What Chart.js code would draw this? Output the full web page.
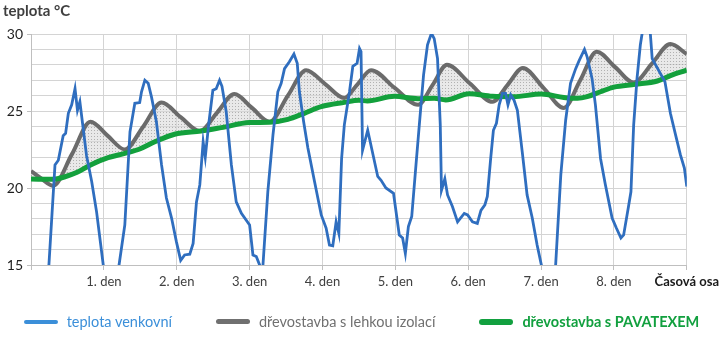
<!DOCTYPE html>
<html>
<head>
<meta charset="utf-8">
<script src="https://cdn.jsdelivr.net/npm/chart.js@4/dist/chart.umd.min.js"></script>
<style>
  body { margin: 0; background: #fff; }
  #wrap { position: relative; width: 723px; height: 343px; font-family: Lato, "Open Sans", sans-serif; }
  #chart { position: absolute; left: 0; top: 0; }
  #ytitle { position: absolute; left: 3px; top: 1px; font-size: 15px; font-weight: bold; color: #3f3f3f; }
  #legend { position: absolute; left: 0; top: 313px; width: 723px; display: flex; justify-content: center; gap: 44px; font-size: 14.5px; }
  #legend .item { display: flex; align-items: center; }
  #legend .line { display: inline-block; width: 34px; border-radius: 3px; margin-right: 9px; }
</style>
</head>
<body>
<div id="wrap">
  <canvas id="chart" width="723" height="343"></canvas>
  <div id="ytitle">teplota °C</div>
  <div id="legend"></div>
</div>
<script>
// x axis: hours from start, one gridline per day
const dayLabels = ['', '1. den', '2. den', '3. den', '4. den', '5. den', '6. den', '7. den', '8. den', 'Časová osa'];

// outdoor temperature
const outdoorHours = [0, 5.9, 7.9, 9, 10.6, 11.4, 12.3, 13.4, 14.5, 15.3, 16.1, 18.3, 20, 21.6, 23.8, 26.5, 29, 30.9, 32.6, 34.2,
  35.8, 36.4, 37.5, 38.6, 39.7, 41.3, 43, 44.6, 46.3, 47.9, 49.3, 50.6, 52.3, 53.4, 54.5, 55.6, 56.7, 57.4, 58.5, 59.9,
  61, 62.1, 62.9, 64.3, 66, 67.6, 69.3, 72, 73.1, 74.2, 75.3, 75.8, 76.4, 78, 79.7, 81.3, 82.4, 83.5, 85.1, 86.6,
  87.7, 88.4, 89.8, 91.2, 93.4, 95.6, 97.2, 98.3, 99.4, 100.5, 101.4, 102.3, 103.2, 104.9, 106, 107.4, 108.2, 108.7, 109.2, 110.9,
  114.2, 115.3, 116.9, 119.4, 121.3, 122.4, 123.3, 124.3, 125.4, 126.8, 127.9, 129.3, 130.6, 131.9, 132.8, 133.9, 134.8, 135.2, 136.3, 137.2,
  138.8, 140.5, 142.7, 143.8, 145.4, 147, 148.2, 149.5, 150.3, 151.4, 152.3, 153.3, 154.2, 155.3, 156.3, 157.1, 158, 159.1, 160.2, 161.8,
  163.4, 165.1, 166.7, 168.1, 170.4, 172.8, 174.5, 176.1, 177.7, 179.4, 180.5, 182.3, 183.2, 184.8, 185.9, 187.6, 189.2, 191.4, 192.8, 194.3,
  195.2, 196.8, 197.6, 198.5, 199.6, 200.7, 201.3, 202.6, 204, 204.6, 208.8, 210.6, 212.3, 213.9, 215.2, 216];
const outdoorTemps = [13.0, 15.0, 21.5, 21.8, 23.4, 23.55, 24.85, 25.4, 26.45, 25.05, 25.6, 22.1, 20.4, 18.45, 15.0, 13.4, 15.0, 17.6, 23.65, 25.5,
  25.55, 26.25, 27.0, 26.8, 25.9, 24.3, 21.5, 19.35, 18.05, 16.5, 15.3, 15.65, 15.7, 16.4, 19.1, 20.2, 23.0, 22.0, 24.1, 26.35,
  26.45, 27.0, 26.6, 24.95, 21.5, 19.1, 18.35, 17.6, 15.65, 15.55, 15.0, 14.6, 15.0, 19.75, 23.45, 26.25, 26.8, 27.75, 28.2, 28.7,
  28.1, 26.25, 24.3, 22.6, 20.4, 18.25, 17.4, 16.3, 16.25, 17.8, 17.05, 21.9, 24.1, 26.25, 27.9, 28.1, 29.05, 28.85, 22.45, 23.75,
  20.75, 20.5, 20.0, 19.65, 16.95, 16.75, 15.75, 17.5, 18.15, 21.5, 24.1, 27.35, 29.3, 30.05, 29.7, 28.4, 24.1, 19.85, 20.6, 19.55,
  18.8, 17.8, 18.35, 18.25, 17.8, 17.7, 18.55, 18.9, 19.45, 21.9, 23.75, 24.2, 25.4, 26.15, 26.15, 25.4, 26.05, 25.7, 25.05, 22.35,
  19.55, 18.05, 16.3, 15.0, 13.8, 15.0, 20.85, 24.4, 26.8, 27.75, 28.25, 29.0, 28.5, 27.1, 25.4, 21.9, 20.2, 18.05, 17.4, 16.75,
  16.95, 18.8, 19.75, 24.1, 27.1, 29.3, 30.05, 30.6, 30.0, 28.4, 26.9, 24.85, 23.45, 22.15, 21.3, 20.1];

// light timber frame
const lightHours = [0, 3.5, 7.3, 13.5, 19.6, 25.2, 30.9, 37, 43, 49.3, 55.6, 61.3, 67, 72.8, 78.6, 84.6, 90.6, 96.9, 103.2,
  107.6, 112, 119.8, 127.5, 132.3, 137, 144.5, 152, 157, 162, 168.8, 175.5, 180.9, 186.3, 192.4, 198.5, 204.6, 210.6, 216];
const lightTemps = [21.1, 20.6, 20.15, 22.2, 24.3, 23.4, 22.5, 24.0, 25.55, 24.6, 23.7, 24.9, 26.1, 25.2, 24.3, 26.0, 27.65, 26.75, 25.85,
  26.75, 27.65, 26.5, 25.4, 26.7, 28.0, 26.8, 25.6, 26.7, 27.8, 26.5, 25.2, 27.0, 28.85, 27.85, 26.85, 28.1, 29.35, 28.7];

// timber frame with PAVATEX
const pavatexHours = [0, 7.3, 11.2, 15, 19.6, 25.4, 30.9, 35.8, 40.8, 47.3, 56, 62.7, 72, 78.6, 84.6, 90, 95.6, 103.2, 108,
  110.8, 119.7, 127.5, 132.8, 136.6, 144.3, 152, 159, 168, 175.5, 180, 183.2, 187.6, 192, 199, 206.3, 210.6, 216];
const pavatexTemps = [20.58, 20.57, 20.73, 21.0, 21.5, 21.97, 22.25, 22.53, 23.0, 23.49, 23.7, 23.92, 24.25, 24.27, 24.46, 24.85, 25.28, 25.56, 25.7,
  25.65, 25.95, 25.8, 25.82, 25.72, 26.12, 25.95, 25.93, 26.1, 25.88, 25.82, 25.93, 26.25, 26.55, 26.73, 26.95, 27.3, 27.65];

const seriesNames = ['teplota venkovní', 'dřevostavba s lehkou izolací', 'dřevostavba s PAVATEXEM'];
const lineColors = ['#2f6ebf', '#6b6b6b', '#13a03c'];
const legendColors = ['#3b8fd9', '#707070', '#12a03f'];

function points(xs, ys) {
  return xs.map((x, i) => ({ x: x, y: ys[i] }));
}

const canvas = document.getElementById('chart');
const ctx = canvas.getContext('2d');

// dotted gray fill between the two wall curves
const tile = document.createElement('canvas');
tile.width = 3;
tile.height = 3;
const tg = tile.getContext('2d');
tg.fillStyle = 'rgba(215,215,215,0.55)';
tg.fillRect(0, 0, 3, 3);
tg.fillStyle = 'rgba(140,140,140,0.6)';
tg.fillRect(1, 1, 1, 1);
const dots = ctx.createPattern(tile, 'repeat');

const tickFont = { family: 'Lato, "Open Sans", sans-serif', size: 13 };

new Chart(canvas, {
  type: 'line',
  data: {
    datasets: [
      {
        label: seriesNames[0],
        data: points(outdoorHours, outdoorTemps),
        borderColor: lineColors[0],
        borderWidth: 2.8,
        pointRadius: 0,
        tension: 0,
        clip: 0,
        order: 0
      },
      {
        label: seriesNames[1],
        data: points(lightHours, lightTemps),
        borderColor: lineColors[1],
        borderWidth: 4,
        pointRadius: 0,
        cubicInterpolationMode: 'monotone',
        fill: { target: 2, above: dots, below: 'rgba(0,0,0,0)' },
        clip: 0,
        order: 2
      },
      {
        label: seriesNames[2],
        data: points(pavatexHours, pavatexTemps),
        borderColor: lineColors[2],
        borderWidth: 5,
        pointRadius: 0,
        cubicInterpolationMode: 'monotone',
        clip: 0,
        order: 1
      }
    ]
  },
  options: {
    responsive: false,
    animation: false,
    layout: { padding: { left: 0, right: 35, top: 34, bottom: 54 } },
    plugins: {
      legend: { display: false },
      tooltip: { enabled: false }
    },
    scales: {
      x: {
        type: 'linear',
        min: 0,
        max: 216,
        afterFit: s => { s.height = 24; },
        ticks: {
          stepSize: 24,
          autoSkip: false,
          maxRotation: 0,
          padding: 4,
          color: (c) => c.index === 9 ? '#1a1a1a' : '#404040',
          font: (c) => c.index === 9 ? Object.assign({}, tickFont, { weight: 'bold' }) : tickFont,
          callback: (v, i) => dayLabels[i]
        },
        grid: { color: '#d4d4d4', lineWidth: 1, tickLength: 5, tickColor: '#bfbfbf' },
        border: { color: '#bfbfbf' }
      },
      y: {
        min: 15,
        max: 30,
        afterFit: s => { s.width = 31; },
        ticks: {
          stepSize: 1,
          autoSkip: false,
          padding: 4,
          color: '#1f1f1f',
          font: { family: 'Lato, "Open Sans", sans-serif', size: 14 },
          callback: v => (v % 5 === 0 ? v : '')
        },
        grid: {
          color: '#d4d4d4',
          lineWidth: 1,
          tickLength: 4,
          tickColor: (c) => (c.tick && c.tick.value % 5 === 0 ? '#bfbfbf' : 'rgba(0,0,0,0)')
        },
        border: { color: '#bfbfbf' }
      }
    }
  }
});

// legend row under the axis
const legend = document.getElementById('legend');
seriesNames.forEach((name, i) => {
  const item = document.createElement('div');
  item.className = 'item';
  const line = document.createElement('span');
  line.className = 'line';
  line.style.background = legendColors[i];
  line.style.height = [4, 5, 6][i] + 'px';
  const text = document.createElement('span');
  text.textContent = name;
  text.style.color = legendColors[i];
  if (i === 2) text.style.fontWeight = 'bold';
  item.appendChild(line);
  item.appendChild(text);
  legend.appendChild(item);
});
</script>
</body>
</html>
